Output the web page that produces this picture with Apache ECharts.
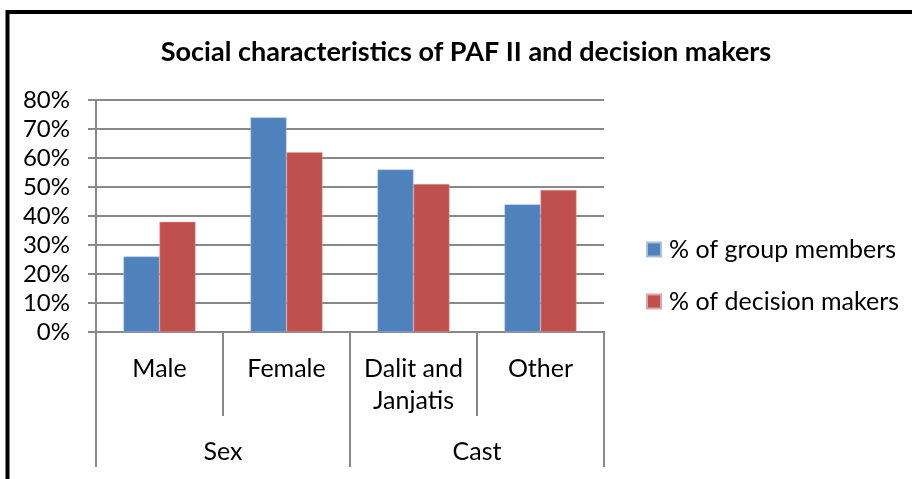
<!DOCTYPE html>
<html><head><meta charset="utf-8">
<script src="https://cdn.jsdelivr.net/npm/echarts@6/dist/echarts.min.js"></script>
<style>html,body{margin:0;padding:0;background:#fff}#c{width:912px;height:479px}</style>
</head><body><div id="c"></div>
<script>
var categories = ['Male', 'Female', 'Dalit and\nJanjatis', 'Other'];
var groups = ['Sex', 'Cast'];
var groupMembers = [26, 74, 56, 44];
var decisionMakers = [38, 62, 51, 49];
var seriesNames = ['% of group members', '% of decision makers'];
var titleText = 'Social characteristics of PAF II and decision makers';

var FONT = 'Lato';
var gray = '#888888';
var chart = echarts.init(document.getElementById('c'));
chart.setOption({
  animation: false,
  backgroundColor: '#fff',
  textStyle: {fontFamily: FONT},
  graphic: [
    {type: 'rect', shape: {x: 7.5, y: 12, width: 1000, height: 1000}, style: {fill: 'none', stroke: '#000', lineWidth: 4}, z: 100},
    {type: 'text', x: 466, y: 52, style: {text: titleText, fontFamily: FONT, fontWeight: 'bold', fontSize: 27, fill: '#000', textAlign: 'center', textVerticalAlign: 'middle'}}
  ],
  grid: {left: 96, right: 308, top: 100, bottom: 147, containLabel: false},
  legend: {
    orient: 'vertical', left: 646, top: 237, padding: 0, itemWidth: 14, itemHeight: 14, itemGap: 27,
    icon: 'rect',
    textStyle: {fontFamily: FONT, fontSize: 25, lineHeight: 25, color: '#000', padding: [0, 0, 0, 3]},
    data: seriesNames
  },
  xAxis: [
    {
      type: 'category', data: categories, position: 'bottom',
      axisLine: {show: true, lineStyle: {color: gray, width: 2}},
      axisTick: {show: true, length: 84, interval: 0, lineStyle: {color: gray, width: 2}},
      axisLabel: {interval: 0, margin: 21, fontFamily: FONT, fontSize: 25, color: '#000', lineHeight: 32}
    },
    {
      type: 'category', data: groups, position: 'bottom',
      axisLine: {show: true, lineStyle: {color: gray, width: 2}},
      axisTick: {show: true, length: 135, interval: 0, lineStyle: {color: gray, width: 2}},
      axisLabel: {interval: 0, margin: 107, fontFamily: FONT, fontSize: 25, lineHeight: 26, color: '#000'}
    }
  ],
  yAxis: {
    type: 'value', min: 0, max: 80, interval: 10,
    axisLine: {show: true, lineStyle: {color: gray, width: 2}},
    axisTick: {show: true, length: 8, lineStyle: {color: gray, width: 2}},
    splitLine: {show: true, lineStyle: {color: gray, width: 2}},
    axisLabel: {formatter: '{value}%', margin: 26, fontFamily: FONT, fontSize: 24, color: '#000'}
  },
  series: [
    {name: seriesNames[0], type: 'bar', xAxisIndex: 0, data: groupMembers, barWidth: 36, barGap: '0%',
     itemStyle: {color: '#4F81BD', borderColor: '#a9c0dd', borderWidth: 0.5}},
    {name: seriesNames[1], type: 'bar', xAxisIndex: 0, data: decisionMakers, barWidth: 36, barGap: '0%',
     itemStyle: {color: '#C0504D', borderColor: '#dca6a4', borderWidth: 0.5}}
  ]
});
</script></body></html>
